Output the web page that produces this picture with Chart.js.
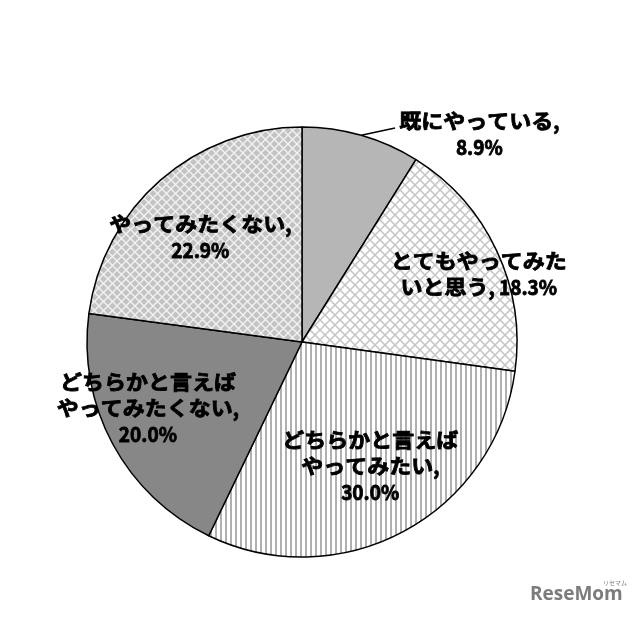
<!DOCTYPE html>
<html>
<head>
<meta charset="utf-8">
<script src="https://cdn.jsdelivr.net/npm/chart.js@4.4.1/dist/chart.umd.min.js"></script>
<style>
  html, body { margin: 0; padding: 0; background: #fff; }
  #wrap { width: 640px; height: 620px; position: relative; }
</style>
</head>
<body>
<div id="wrap"><canvas id="pie" width="640" height="620"></canvas></div>
<script>
// 回答の内訳 (%)
const categories = ['既にやっている', 'とてもやってみたいと思う', 'どちらかと言えばやってみたい', 'どちらかと言えばやってみたくない', 'やってみたくない'];
const shares = [8.9, 18.3, 30.0, 20.0, 22.9];
// label text per slice, %v = value
const labelLines = [
    ['既にやっている,', '%v'],
    ['とてもやってみた', 'いと思う, %v'],
    ['どちらかと言えば', 'やってみたい,', '%v'],
    ['どちらかと言えば', 'やってみたくない,', '%v'],
    ['やってみたくない,', '%v']
];

// label placement: angle shift from slice middle (deg), distance as share of radius
const labelPlace = [
    { da: 24.5, r: 1.27, leader: { da: 7.5, r: 1.085 } },
    { da: 4.2, r: 0.88 },
    { da: -0.5, r: 0.66 },
    { da: 5.1, r: 0.78 },
    { da: -2.9, r: 0.68 }
];

function makePattern(size, bg, draw) {
    const c = document.createElement('canvas');
    c.width = size; c.height = size;
    const g = c.getContext('2d');
    g.fillStyle = bg; g.fillRect(0, 0, size, size);
    draw(g, size);
    return document.getElementById('pie').getContext('2d').createPattern(c, 'repeat');
}
function crossHatch(color, w) {
    return (g, s) => {
        g.strokeStyle = color; g.lineWidth = w;
        g.beginPath();
        g.moveTo(-1, -1); g.lineTo(s + 1, s + 1);
        g.moveTo(s + 1, -1); g.lineTo(-1, s + 1);
        g.stroke();
    };
}
const fills = [
    '#b6b6b6',
    makePattern(10, '#ffffff', crossHatch('#c4c4c4', 1.5)),
    makePattern(5, '#ffffff', (g, s) => { g.fillStyle = '#b0b0b0'; g.fillRect(0, 0, 2, s); }),
    '#878787',
    makePattern(9, '#c3c3c3', crossHatch('#f2f2f2', 1.4))
];

// kana/kanji wider, digits narrower, like the source
const CJK = /[\u3000-\u9fff\uff00-\uffef]/;
function splitRuns(t) {
    const runs = [];
    for (const ch of t) {
        const wide = CJK.test(ch);
        if (runs.length && runs[runs.length - 1].wide === wide) runs[runs.length - 1].s += ch;
        else runs.push({ s: ch, wide });
    }
    return runs;
}
function drawLine(ctx, t, cx, cy) {
    const runs = splitRuns(t);
    runs.forEach(r => { r.k = r.wide ? 1.1 : 0.95; r.w = ctx.measureText(r.s).width * r.k; });
    let x = cx - runs.reduce((s, r) => s + r.w, 0) / 2;
    runs.forEach(r => {
        ctx.save();
        ctx.translate(x, cy);
        ctx.scale(r.k, 1);
        ctx.strokeText(r.s, 0, 0);
        ctx.fillText(r.s, 0, 0);
        ctx.restore();
        x += r.w;
    });
}

const labelPlugin = {
    id: 'sliceLabels',
    afterDatasetsDraw(chart) {
        const ctx = chart.ctx;
        const arcs = chart.getDatasetMeta(0).data;
        const lineH = 26;
        ctx.save();
        ctx.fillStyle = '#000';
        ctx.strokeStyle = '#000';
        ctx.font = 'bold 20px "Noto Sans CJK JP"';
        ctx.textAlign = 'left';
        ctx.textBaseline = 'middle';
        arcs.forEach((arc, i) => {
            const p = labelPlace[i];
            const mid = (arc.startAngle + arc.endAngle) / 2;
            const R = arc.outerRadius;
            if (p.leader) {
                const a2 = mid + p.leader.da * Math.PI / 180;
                ctx.lineWidth = 1.5;
                ctx.beginPath();
                ctx.moveTo(arc.x + R * Math.cos(mid), arc.y + R * Math.sin(mid));
                ctx.lineTo(arc.x + R * p.leader.r * Math.cos(a2), arc.y + R * p.leader.r * Math.sin(a2));
                ctx.stroke();
            }
            const a = mid + p.da * Math.PI / 180;
            const cx = arc.x + R * p.r * Math.cos(a);
            const cy = arc.y + R * p.r * Math.sin(a);
            const lines = labelLines[i].map(t => t.replace('%v', shares[i].toFixed(1) + '%'));
            const top = cy - (lines.length - 1) * lineH / 2;
            ctx.lineWidth = 0.8;
            lines.forEach((t, k) => drawLine(ctx, t, cx, top + k * lineH));
        });
        // watermark
        ctx.fillStyle = '#7c7c7c';
        ctx.textBaseline = 'alphabetic';
        ctx.font = 'bold 19px "Open Sans"';
        ctx.fillText('ReseMom', 530, 600);
        ctx.font = '6px "Noto Sans CJK JP"';
        ctx.fillText('リセマム', 603, 585);
        ctx.restore();
    }
};

new Chart(document.getElementById('pie'), {
    type: 'pie',
    data: {
        labels: categories,
        datasets: [{
            data: shares,
            backgroundColor: fills,
            borderColor: '#000',
            borderWidth: 1.5,
            hoverOffset: 0
        }]
    },
    options: {
        responsive: false,
        animation: false,
        radius: 215,
        layout: { padding: { left: 0, right: 36, top: 64, bottom: 0 } },
        plugins: { legend: { display: false }, tooltip: { enabled: false } }
    },
    plugins: [labelPlugin]
});
</script>
</body>
</html>
